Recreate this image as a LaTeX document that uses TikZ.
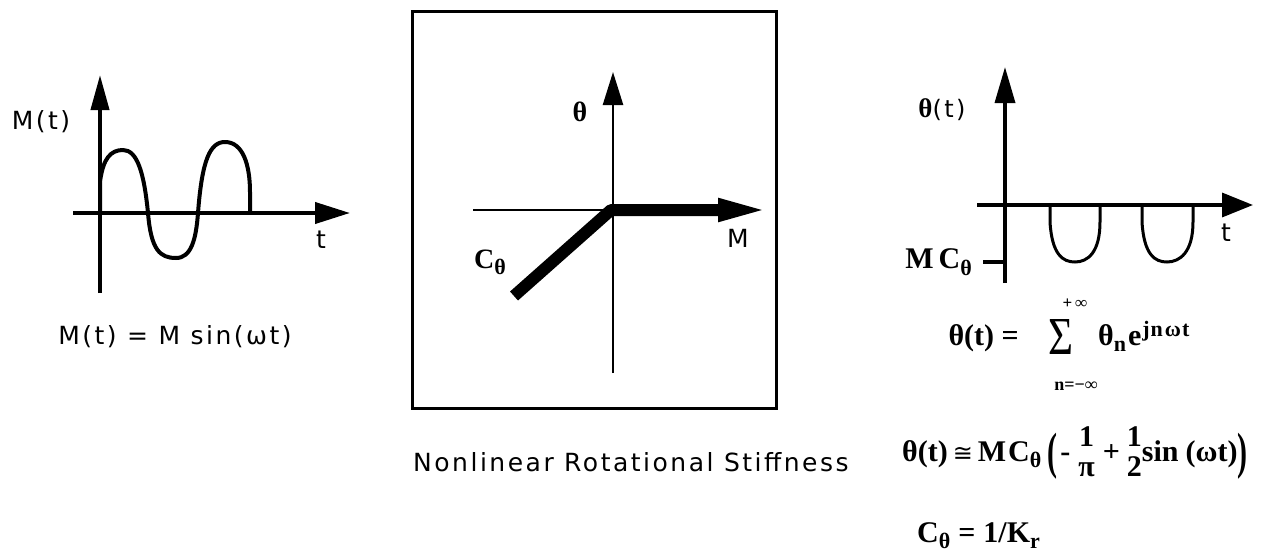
\documentclass[tikz,border=0pt]{standalone}
\usepackage{fontspec}
\usepackage{graphicx}
\usetikzlibrary{arrows.meta}
\setmainfont{Liberation Serif}
\newfontfamily\gen[LetterSpace=10]{DejaVu Sans}
\newfontfamily\dvsans{DejaVu Sans}
\newcommand{\sbs}[1]{\raisebox{-0.22em}{\fontsize{22}{22}\selectfont #1}}
\newcommand{\sps}[1]{\raisebox{0.28em}{\fontsize{22}{22}\selectfont #1}}
\newcommand{\bigpar}[1]{\raisebox{-0.24em}{\scalebox{1}[1.7]{#1}}}
\newcommand{\stk}[2]{\begin{tabular}{@{}c@{}}#1\\[-6pt]#2\end{tabular}}
\newcommand{\gap}[1]{\hspace*{#1}}
\begin{document}
\begin{tikzpicture}[x=1pt,y=-1pt,
  axisL/.style={line width=4pt},
  axisC/.style={line width=2.5pt},
  axisR/.style={line width=3.5pt},
  curve/.style={line width=4pt,line join=round},
  lbl/.style={inner sep=0pt,font=\gen\fontsize{25}{29}\selectfont},
  blbl/.style={inner sep=0pt,font=\bfseries\fontsize{28}{32}\selectfont},
  eq/.style={inner sep=0pt,font=\bfseries\fontsize{30}{36}\selectfont}]
\useasboundingbox (0,0) rectangle (1275,557);

% ---------- left plot ----------
\coordinate (Ly0) at (100,293); \coordinate (Ly1) at (100,75);
\coordinate (Lx0) at (73,213);  \coordinate (Lx1) at (350,213);
\draw[axisL,-{Triangle[length=35pt,width=18pt]}] (Ly0) -- (Ly1);
\draw[axisL,-{Triangle[length=35pt,width=21pt]}] (Lx0) -- (Lx1);
\draw[curve] (100,213) -- (100,182) .. controls (103,158) and (111,150) .. (123,150)
  .. controls (137,150) and (144,172) .. (148,213)
  .. controls (151,250) and (160,258) .. (176,258)
  .. controls (191,258) and (196,240) .. (198,213)
  .. controls (202,160) and (210,142) .. (225,142)
  .. controls (243,142) and (250,165) .. (250,192) -- (250,213);
\node[lbl] (LM) at (41,122) {M(t)};
\node[lbl] (Lt) at (321,240) {t};
\node[lbl] (Lf) at (175,337) {M(t) = M sin(ωt)};

% ---------- centre box ----------
\draw[line width=3pt] (412,11) rectangle (776,408);
\coordinate (Cy0) at (613,373); \coordinate (Cy1) at (613,72);
\coordinate (Cx0) at (473,210); \coordinate (Cx1) at (762,210);
\draw[axisC,-{Triangle[length=33pt,width=20pt]}] (Cy0) -- (Cy1);
\draw[axisC,-{Triangle[length=44pt,width=24pt]}] (Cx0) -- (Cx1);
\coordinate (Ca) at (514,296); \coordinate (Cb) at (611,210); \coordinate (Cc) at (719,210);
\draw[line width=12pt,line join=round] (Ca) -- (Cb) -- (Cc);
\node[blbl] (Cth) at (580,112) {θ};
\node[lbl] (CM) at (738,238) {M};
\node[blbl] (CC) at (490,262) {C\sbs{θ}};
\node[lbl,anchor=west] (Ct) at (413,462) {Nonlinear Rotational Stiffness};

% ---------- right plot ----------
\coordinate (Ry0) at (1005,283); \coordinate (Ry1) at (1005,67);
\coordinate (Rx0) at (977,205);  \coordinate (Rx1) at (1253,205);
\draw[axisR,-{Triangle[length=36pt,width=20pt]}] (Ry0) -- (Ry1);
\draw[axisR,-{Triangle[length=31pt,width=24pt]}] (Rx0) -- (Rx1);
\coordinate (Rk0) at (983,262); \coordinate (Rk1) at (1005,262);
\draw[axisR] (Rk0) -- (Rk1);
\draw[line width=3pt] (1050,205) -- (1050,222) .. controls (1052,255) and (1063,262) .. (1075,262)
  .. controls (1088,262) and (1100,252) .. (1100,222) -- (1100,205);
\draw[line width=3pt] (1142,205) -- (1142,222) .. controls (1144,255) and (1155,262) .. (1167,262)
  .. controls (1180,262) and (1193,252) .. (1193,222) -- (1193,205);
\node[inner sep=0pt] (Rth) at (942,110) {\bfseries\fontsize{27}{30}\selectfont θ\gen\mdseries\fontsize{24}{28}\selectfont (t)};
\node[lbl] (Rt) at (1226,233) {t};
\node[eq,anchor=east] (RMC) at (972,262) {M\,C\sbs{θ}};

% ---------- equations ----------
\node[eq,anchor=base east] (E1a) at (1019,345) {θ(t) =};
\node[inner sep=0pt] (E1s) at (1061,337) {\resizebox{25pt}{35pt}{Σ}};
\node[inner sep=0pt,font=\bfseries\fontsize{17}{17}\selectfont] (E1u) at (1075,304) {+\,∞};
\node[inner sep=0pt,font=\bfseries\fontsize{18}{18}\selectfont] (E1l) at (1076,386) {n=−∞};
\node[eq,anchor=base west] (E1b) at (1098,345) {θ\sbs{n}\gap{2pt}e\gap{1pt}\sps{j\gap{1pt}n\gap{2pt}ω\gap{1pt}t}};

\node[eq,anchor=base west] (E2) at (902,461) {θ(t)\gap{5pt}{\dvsans\mdseries\fontsize{24}{28}\selectfont ≅}\gap{5pt}M\gap{2pt}C\sbs{θ}\gap{6pt}\bigpar{(}\gap{3pt}-\gap{8pt}\stk{1}{π}\gap{8pt}+\gap{7pt}\stk{1}{2}sin\gap{7pt}(ωt)\bigpar{)}};

\node[eq,anchor=base west] (E3) at (917,542) {C\sbs{θ}\gap{8pt}=\gap{8pt}1/K\sbs{r}};
\end{tikzpicture}
\end{document}
